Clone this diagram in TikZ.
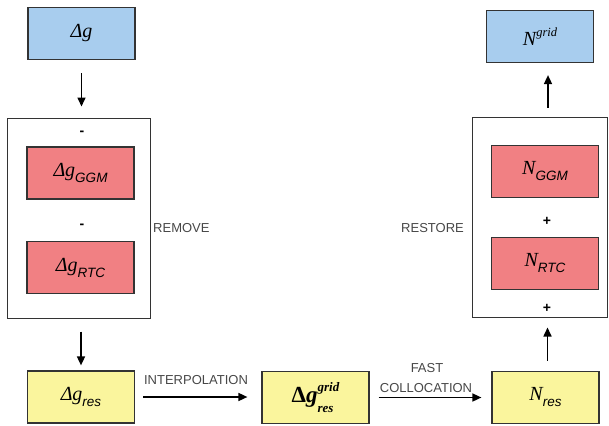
\documentclass[tikz,border=0pt]{standalone}
\usepackage{fontspec}
\setmainfont{Liberation Serif}
\setsansfont{Liberation Sans}
\usepackage{xcolor}
\usepackage{tikz}
\usetikzlibrary{positioning,calc,arrows.meta}

\definecolor{boxblue}{RGB}{168,205,238}
\definecolor{boxred}{RGB}{241,128,131}
\definecolor{boxyellow}{RGB}{250,245,157}

\newcommand{\ssub}[1]{\raisebox{-0.3em}{\fontsize{13.5}{14}\selectfont\sffamily\itshape #1}}

\begin{document}
\begin{tikzpicture}[x=1pt, y=-1pt,
    box/.style={draw=black!80, line width=1.2pt, minimum width=107pt, minimum height=52pt, inner sep=0pt, font=\fontsize{20}{22}\selectfont},
    bluebox/.style={box, fill=boxblue},
    redbox/.style={box, fill=boxred},
    yellowbox/.style={box, fill=boxyellow},
    group/.style={draw=black!80, line width=1pt, inner sep=0pt},
    lbl/.style={font=\sffamily\fontsize{13}{14}\selectfont, text=black!72, inner sep=0pt},
    sign/.style={font=\sffamily\bfseries\fontsize{14}{14}\selectfont, inner sep=0pt},
    arr/.style={-{Triangle[length=9pt,width=8pt]}, line width=1.6pt}]
    \useasboundingbox (0,0) rectangle (609,425);

    % Remove block
    \node[group, minimum width=143pt, minimum height=200pt] (remove) at (78.5,218) {};
    \node[bluebox] (dg) at (81.5,33.5) {\itshape Δg};
    \node[sign] (minusA) at (82,133) {-};
    \node[redbox] (dgggm) at (80.5,173) {\itshape Δg\ssub{GGM}};
    \node[sign] (minusB) at (82,226) {-};
    \node[redbox] (dgrtc) at (80.5,267.5) {\itshape Δg\ssub{RTC}};
    \node[lbl, anchor=west] (removelbl) at (153,228) {REMOVE};

    % Bottom row
    \node[yellowbox] (dgres) at (81,397) {\itshape Δg\ssub{res}};
    \node[yellowbox, font=\fontsize{23}{24}\selectfont\bfseries] (dggrid) at (315.5,397.5)
        {Δ\textit{g}\rlap{\raisebox{-0.45em}{\fontsize{13}{13}\selectfont\itshape res}}\raisebox{0.5em}{\fontsize{13}{13}\selectfont\itshape grid}};
    \node[yellowbox] (nres) at (545.5,397.5) {\itshape N\ssub{res}};

    % Restore block
    \node[group, minimum width=135pt, minimum height=200pt] (restore) at (539.5,217) {};
    \node[redbox] (nggm) at (545,171.5) {\itshape N\ssub{GGM}};
    \node[sign] (plusA) at (547,221) {+};
    \node[redbox] (nrtc) at (545,263.5) {\itshape N\ssub{RTC}};
    \node[sign] (plusB) at (547,308) {+};
    \node[bluebox] (ngrid) at (540,36.5) {\itshape N\raisebox{0.45em}{\fontsize{12.5}{13}\selectfont grid}};
    \node[lbl, anchor=east] (restorelbl) at (464,228) {RESTORE};

    % Labels on the arrows
    \node[lbl] (interp) at (196,380) {INTERPOLATION};
    \node[lbl] (fast) at (427,368) {FAST};
    \node[lbl] (colloc) at (426,388) {COLLOCATION};

    % Arrows
    \draw[arr, shorten <=13pt, shorten >=11pt] (dg.south) -- (dg.south |- remove.north);
    \draw[arr, shorten <=13pt, shorten >=5pt] (dgres.north |- remove.south) -- (dgres.north);
    \draw[arr, shorten <=8pt, shorten >=14pt] (dgres.east) -- (dggrid.west |- dgres.east);
    \draw[arr, shorten <=9pt, shorten >=10pt] (dggrid.east) -- (nres.west |- dggrid.east);
    \draw[arr, shorten <=10pt, shorten >=10pt] ($(nres.north)+(2,0)$) -- ($(nres.north |- restore.south)+(2,0)$);
    \draw[arr, shorten <=9pt, shorten >=12pt] ($(nggm.north |- restore.north)+(3,0)$) -- ($(nggm.north |- ngrid.south)+(3,0)$);
\end{tikzpicture}
\end{document}
